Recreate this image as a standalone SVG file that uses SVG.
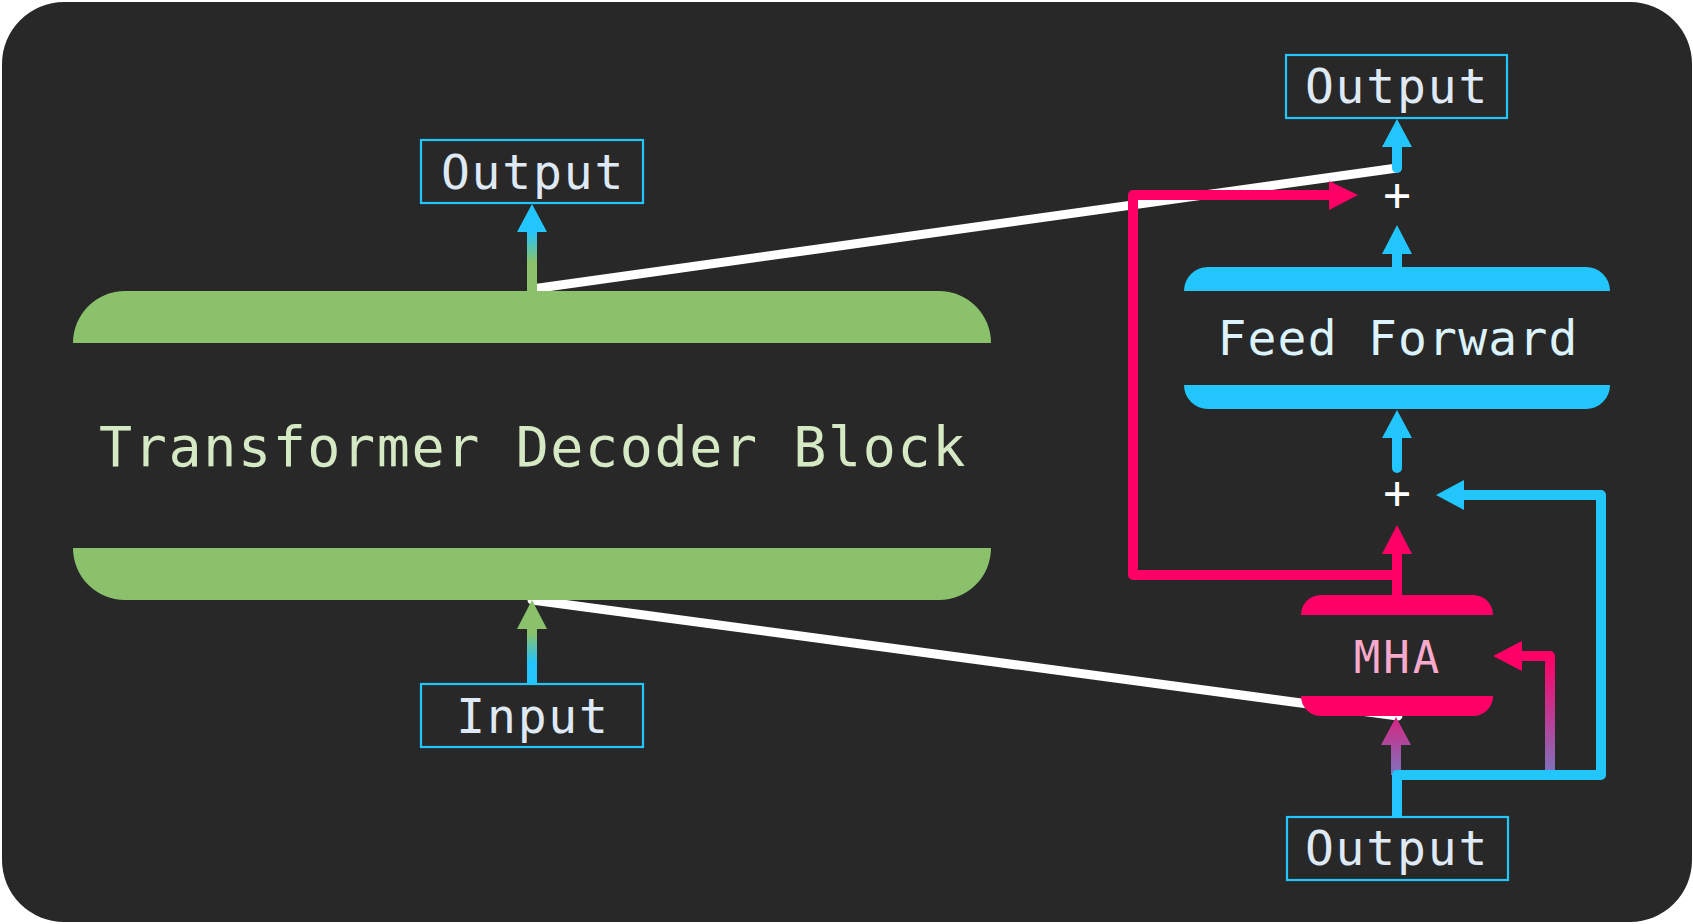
<svg xmlns="http://www.w3.org/2000/svg" width="1693" height="924" viewBox="0 0 1693 924">
<style>
.mono{font-family:"DejaVu Sans Mono","Liberation Mono",monospace;}
.box{fill:#282828;stroke:#22c5fc;stroke-width:2.2;}
.lbl{font-size:48px;fill:#dfe9f5;text-anchor:middle;letter-spacing:1.8px;}
.blue{stroke:#22c5fc;}
.pink{stroke:#ff0066;}
.ln{fill:none;stroke-width:10;stroke-linejoin:round;}
.zoom{stroke:#ffffff;stroke-width:9;stroke-linecap:round;fill:none;}
.plus{font-size:46px;fill:#ffffff;text-anchor:middle;}
</style>
<defs>
<linearGradient id="gOut" gradientUnits="userSpaceOnUse" x1="0" y1="291" x2="0" y2="204">
<stop offset="0" stop-color="#8bc16a"/><stop offset="0.33" stop-color="#8bc16a"/><stop offset="0.68" stop-color="#22c5fc"/><stop offset="1" stop-color="#22c5fc"/>
</linearGradient>
<linearGradient id="gIn" gradientUnits="userSpaceOnUse" x1="0" y1="687" x2="0" y2="600">
<stop offset="0" stop-color="#22c5fc"/><stop offset="0.28" stop-color="#22c5fc"/><stop offset="0.62" stop-color="#8bc16a"/><stop offset="1" stop-color="#8bc16a"/>
</linearGradient>
<linearGradient id="gR" gradientUnits="userSpaceOnUse" x1="0" y1="656" x2="0" y2="856">
<stop offset="0" stop-color="#ff0066"/><stop offset="1" stop-color="#22c5fc"/>
</linearGradient>
<linearGradient id="gM" gradientUnits="userSpaceOnUse" x1="0" y1="691" x2="0" y2="834">
<stop offset="0" stop-color="#ff0066"/><stop offset="1" stop-color="#22c5fc"/>
</linearGradient>
</defs>
<rect x="0" y="0" width="1693" height="924" fill="#ffffff"/>
<rect x="2" y="2" width="1690" height="920" rx="62" ry="62" fill="#282828"/>

<g id="connectors">
<line class="zoom" x1="532" y1="289" x2="1397" y2="168"/>
<line class="zoom" x1="532" y1="600" x2="1398" y2="716"/>
<!-- left output arrow -->
<line x1="532" y1="291" x2="532" y2="231" stroke="url(#gOut)" stroke-width="10"/>
<polygon points="517,232 547,232 532,204" fill="#22c5fc"/>
<!-- input arrow -->
<path d="M532,687 V628" stroke="url(#gIn)" stroke-width="10" stroke-linecap="round" fill="none"/>
<polygon points="517,629 547,629 532,600" fill="#8bc16a"/>
<!-- right column -->
<path class="ln blue" d="M1397,168 V146" stroke-linecap="round"/>
<polygon points="1382,147 1412,147 1397,119" fill="#22c5fc"/>
<path class="ln blue" d="M1397,267 V253"/>
<polygon points="1382,254 1412,254 1397,225" fill="#22c5fc"/>
<path class="ln blue" d="M1397,468 V437" stroke-linecap="round"/>
<polygon points="1382,438 1412,438 1397,410" fill="#22c5fc"/>
<path class="ln pink" d="M1397,595 V553"/>
<polygon points="1382,554 1412,554 1397,525" fill="#ff0066"/>
<path class="ln pink" d="M1397,575 H1133 V195 H1330"/>
<polygon points="1329,181 1329,210 1358,195" fill="#ff0066"/>
<path class="ln" d="M1550,775 V656 H1521" stroke="url(#gR)"/>
<polygon points="1522,641 1522,671 1493,656" fill="#ff0066"/>
<path class="ln" d="M1396,775 V744" stroke="url(#gM)"/>
<polygon points="1381,745 1411,745 1396,717" fill="url(#gM)"/>
<path class="ln blue" d="M1397,816 V775 H1601 V495 H1463"/>
<polygon points="1464,480 1464,510 1436,495" fill="#22c5fc"/>
</g>

<g id="decoder-block">
<path d="M73,343 A52,52 0 0 1 125,291 H939 A52,52 0 0 1 991,343 Z" fill="#8bc16a"/>
<path d="M73,548 H991 A52,52 0 0 1 939,600 H125 A52,52 0 0 1 73,548 Z" fill="#8bc16a"/>
<text class="mono" x="533" y="466" font-size="55" fill="#d6e9c5" text-anchor="middle" letter-spacing="1.6">Transformer Decoder Block</text>
</g>

<g id="output-left">
<rect class="box" x="421" y="140" width="222" height="63"/>
<text class="mono lbl" x="533" y="189">Output</text>
</g>

<g id="input-left">
<rect class="box" x="421" y="684" width="222" height="63"/>
<text class="mono lbl" x="533" y="733">Input</text>
</g>

<g id="output-top">
<rect class="box" x="1286" y="55" width="221" height="63"/>
<text class="mono lbl" x="1397" y="103">Output</text>
</g>

<g id="plus-top">
<text class="mono plus" x="1397" y="211">+</text>
</g>

<g id="feed-forward">
<path d="M1184,291 A24,24 0 0 1 1208,267 H1586 A24,24 0 0 1 1610,291 Z" fill="#22c5fc"/>
<path d="M1184,385 H1610 A24,24 0 0 1 1586,409 H1208 A24,24 0 0 1 1184,385 Z" fill="#22c5fc"/>
<text class="mono" x="1398" y="355" font-size="48" fill="#dcf3fd" text-anchor="middle" letter-spacing="1.2">Feed Forward</text>
</g>

<g id="plus-bottom">
<text class="mono plus" x="1397" y="509">+</text>
</g>

<g id="mha">
<path d="M1301,615 A20,20 0 0 1 1321,595 H1473 A20,20 0 0 1 1493,615 Z" fill="#ff0066"/>
<path d="M1301,696 H1493 A20,20 0 0 1 1473,716 H1321 A20,20 0 0 1 1301,696 Z" fill="#ff0066"/>
<text class="mono" x="1398" y="673" font-size="44" fill="#f9a9cb" text-anchor="middle" letter-spacing="3">MHA</text>
</g>

<g id="output-bottom">
<rect class="box" x="1287" y="817" width="221" height="63"/>
<text class="mono lbl" x="1397" y="865">Output</text>
</g>
</svg>
